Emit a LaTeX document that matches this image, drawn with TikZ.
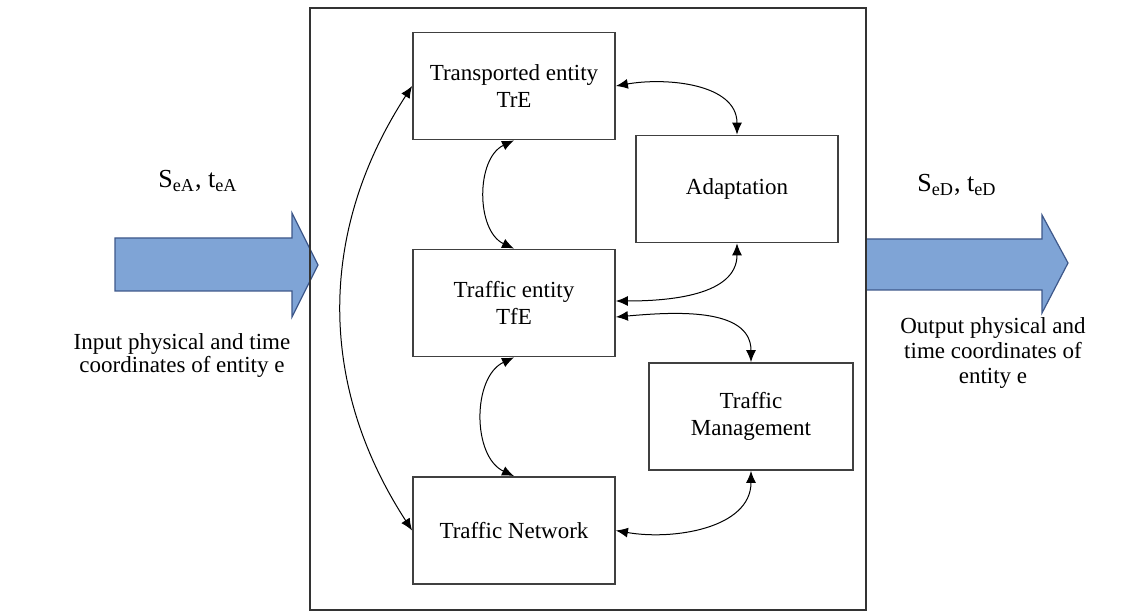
\documentclass[tikz,border=0pt]{standalone}
\usepackage{fontspec}
\setmainfont{Liberation Serif}
\usepackage{tikz}
\usetikzlibrary{arrows.meta}

\definecolor{flowblue}{RGB}{127,164,214}
\definecolor{flowedge}{RGB}{62,88,138}

\begin{document}
\begin{tikzpicture}[x=0.5pt,y=0.5pt,
  blk/.style={draw=black!75, line width=0.9pt, minimum width=101pt, minimum height=53.5pt, align=center, inner sep=2pt, font=\fontsize{11.5}{13.5}\selectfont},
  link/.style={{Latex[length=6pt,width=5pt]}-{Latex[length=6pt,width=5pt]}, line width=0.5pt},
  flow/.style={fill=flowblue, draw=flowedge, line width=0.6pt}]
  \useasboundingbox (0,0) rectangle (1140,611);

  \draw[flow] (115,373) -- (292,373) -- (292,398) -- (318,346) -- (292,294) -- (292,320) -- (115,320) -- cycle;
  \draw[flow] (866,372) -- (1042,372) -- (1042,396) -- (1068,348) -- (1042,298) -- (1042,321) -- (866,321) -- cycle;
  \draw[black!80, line width=0.8pt] (310,1) rectangle (866,603);

  \node[blk] (tre) at (514,525) {Transported entity\\TrE};
  \node[blk] (adapt) at (737,422) {Adaptation};
  \node[blk] (tfe) at (514,308) {Traffic entity\\TfE};
  \node[blk, minimum width=102pt] (tm) at (751,194.5) {Traffic\\Management};
  \node[blk] (tn) at (514,80.5) {Traffic Network};

  \node[font=\fontsize{13}{15}\selectfont, anchor=base] (sa) at (198,423) {S\textsubscript{eA}, t\textsubscript{eA}};
  \node[font=\fontsize{13}{15}\selectfont, anchor=base] (sd) at (957,419) {S\textsubscript{eD}, t\textsubscript{eD}};
  \node[font=\fontsize{11.5}{11.5}\selectfont, align=center] (inp) at (182,255) {Input physical and time\\coordinates of entity e};
  \node[font=\fontsize{11.5}{12.5}\selectfont, align=center] (outp) at (993,258) {Output physical and\\time coordinates of\\entity e};

  \draw[link] (tre.south) to[bend right=65] (tfe.north);
  \draw[link] (tfe.south) to[bend right=65] (tn.north);
  \draw[link] (tre.west) to[bend right=33] (tn.west);
  \draw[link] (tre.east) to[out=10,in=90] (adapt.north);
  \draw[link] ([yshift=1pt]tfe.east) to[out=0,in=-90] (adapt.south);
  \draw[link] ([yshift=-7pt]tfe.east) to[out=5,in=90] (tm.north);
  \draw[link] (tn.east) to[out=-10,in=-90] (tm.south);
\end{tikzpicture}
\end{document}
